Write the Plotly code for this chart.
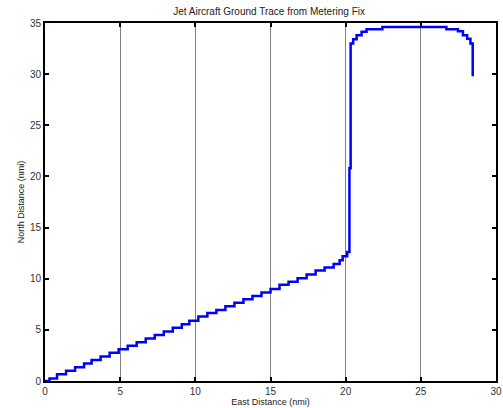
import plotly.graph_objects as go

# Staircase ground-trace points (East nmi, North nmi)
east = [0.0, 0.3, 0.8, 1.4, 2.0, 2.6, 3.1, 3.7, 4.3, 4.9, 5.5, 6.1, 6.7, 7.3, 7.9,
        8.5, 9.1, 9.6, 10.2, 10.8, 11.4, 12.0, 12.6, 13.2, 13.8, 14.4, 15.0, 15.6,
        16.2, 16.8, 17.4, 18.0, 18.6, 19.2, 19.6, 19.8, 20.1, 20.25, 20.33,
        20.5, 20.73, 21.06, 21.39, 22.44, 26.7, 27.47, 27.8, 28.08, 28.3, 28.45, 28.45]
north = [0.0, 0.25, 0.65, 1.0, 1.35, 1.7, 2.05, 2.4, 2.75, 3.1, 3.45, 3.8, 4.15, 4.5,
         4.85, 5.2, 5.55, 5.9, 6.3, 6.65, 6.95, 7.3, 7.65, 8.0, 8.3, 8.65, 9.0, 9.4,
         9.7, 10.05, 10.4, 10.8, 11.1, 11.45, 11.8, 12.2, 12.6, 20.8, 33.0,
         33.4, 33.8, 34.15, 34.4, 34.6, 34.4, 34.2, 33.8, 33.45, 33.0, 29.8, 29.8]

title_text = "Jet Aircraft Ground Trace from Metering Fix"
x_title = "East Distance (nmi)"
y_title = "North Distance (nmi)"
x_ticks = [0, 5, 10, 15, 20, 25, 30]
y_ticks = [0, 5, 10, 15, 20, 25, 30, 35]

fig = go.Figure()
fig.add_trace(go.Scatter(
    x=east, y=north, mode="lines",
    line=dict(color="#0000FF", width=2.5, shape="hv"),
    showlegend=False,
))

font = "Liberation Sans, Arial, Helvetica, sans-serif"
fig.update_layout(
    width=503, height=408,
    margin=dict(l=45, r=1, t=23, b=27),
    paper_bgcolor="white", plot_bgcolor="white",
    font=dict(family=font, size=10, color="#333333"),
    title=dict(text=title_text, x=0.535, xanchor="center", y=0.972, yanchor="middle",
               font=dict(size=10, color="#222222")),
)
fig.update_xaxes(
    range=[0, 30], tickvals=x_ticks, ticktext=[str(v) for v in x_ticks],
    showgrid=True, gridcolor="#808080", gridwidth=1,
    showline=True, linecolor="black", linewidth=2, mirror="ticks",
    ticks="inside", ticklen=4, tickwidth=2, tickcolor="black",
    zeroline=False, ticklabeloverflow="allow",
    title=dict(text=x_title, standoff=0, font=dict(size=9, color="#222222")),
    tickfont=dict(size=10, color="#333333"),
)
fig.update_yaxes(
    range=[0, 35], tickvals=y_ticks, ticktext=[str(v) for v in y_ticks],
    showgrid=False,
    showline=True, linecolor="black", linewidth=2, mirror="ticks",
    ticks="inside", ticklen=4, tickwidth=2, tickcolor="black",
    zeroline=False, ticklabeloverflow="allow",
    title=dict(text=y_title, standoff=4, font=dict(size=9, color="#222222")),
    tickfont=dict(size=10, color="#333333"),
)

fig.write_html("out.html")
